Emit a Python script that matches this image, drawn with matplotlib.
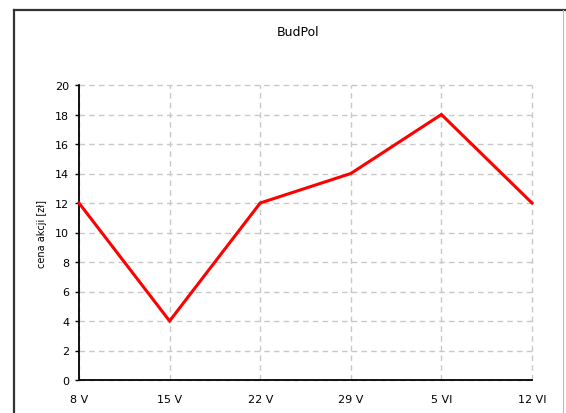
import matplotlib
matplotlib.use('Agg')
import matplotlib.pyplot as plt
from matplotlib.lines import Line2D

dates = ['8 V', '15 V', '22 V', '29 V', '5 VI', '12 VI']
prices = [12, 4, 12, 14, 18, 12]
yticks = [0, 2, 4, 6, 8, 10, 12, 14, 16, 18, 20]

fig = plt.figure(figsize=(5.66, 4.14), dpi=100)
W, H = 566.0, 414.0

# outer frame
fig.add_artist(Line2D([14 / W, 14 / W], [0, 1 - 11 / H], color='#333333', lw=1.6))
fig.add_artist(Line2D([14 / W, 1], [1 - 11 / H, 1 - 11 / H], color='#333333', lw=1.6))
fig.add_artist(Line2D([563 / W, 563 / W], [0, 1 - 11 / H], color='#bbbbbb', lw=0.8))

ax = fig.add_axes([79 / W, 1 - 381 / H, (532 - 79) / W, (381 - 86) / H])
x = list(range(len(dates)))
ax.plot(x, prices, color='#ff0000', lw=2.2, solid_joinstyle='miter', clip_on=False, zorder=3)

ax.set_xlim(0, len(dates) - 1)
ax.set_ylim(0, 20)
ax.set_xticks(x)
ax.set_xticklabels(dates, fontsize=8)
ax.set_yticks(yticks)
ax.set_yticklabels([str(v) for v in yticks], fontsize=8)
ax.tick_params(axis='y', direction='out', length=3, width=1, pad=4)
ax.tick_params(axis='x', length=0, pad=10)

ax.grid(True, color='#c8c8c8', linestyle=(0, (4, 3)), lw=1)
for gl in ax.get_xgridlines() + ax.get_ygridlines():
    gl.set_clip_on(False)
for s in ['top', 'right']:
    ax.spines[s].set_visible(False)
for s in ['left', 'bottom']:
    ax.spines[s].set_linewidth(1.3)
    ax.spines[s].set_color('black')
ax.set_ylabel('cena akcji [zł]', fontsize=7, labelpad=6)

fig.text(298 / W, 1 - 33 / H, 'BudPol', ha='center', va='center', fontsize=9)

fig.savefig('out.png', dpi=100)
